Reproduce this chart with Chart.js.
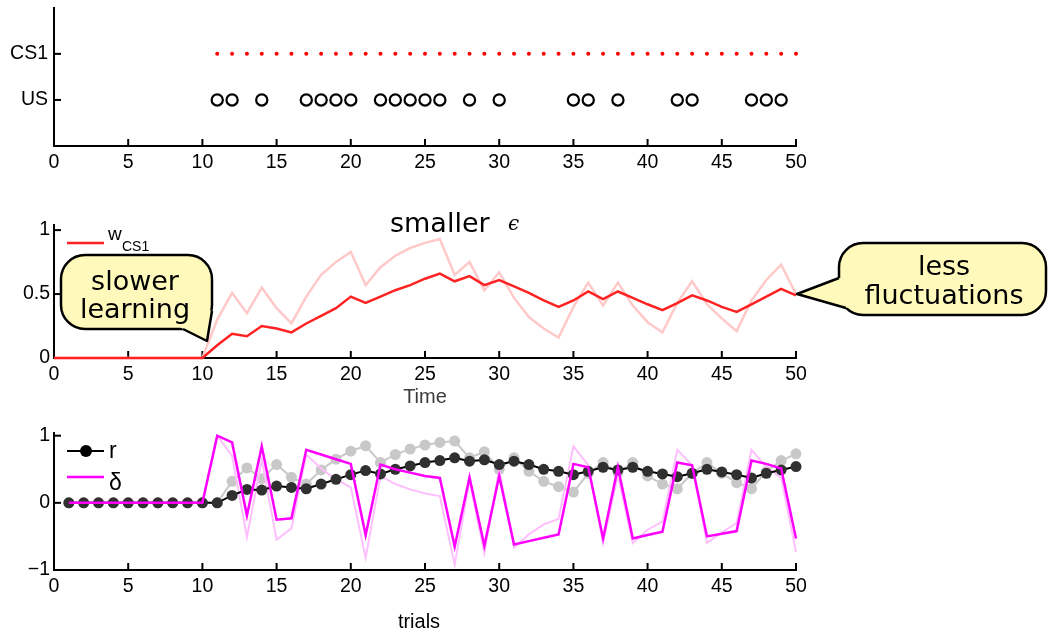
<!DOCTYPE html>
<html>
<head>
<meta charset="utf-8">
<script src="https://cdn.jsdelivr.net/npm/chart.js@4.4.1/dist/chart.umd.min.js"></script>
<style>
  body { margin: 0; background: #fff; }
  #wrap { position: relative; width: 1048px; height: 634px; overflow: hidden; }
  .panel { position: absolute; left: 0; width: 1048px; }
</style>
</head>
<body>
<div id="wrap">
  <div class="panel" style="top:0;height:190px"><canvas id="stimChart"></canvas></div>
  <div class="panel" style="top:190px;height:225px"><canvas id="weightChart"></canvas></div>
  <div class="panel" style="top:415px;height:219px"><canvas id="errorChart"></canvas></div>
</div>
<script>
// --- panel 1: stimuli ---
const stimRows = [1, 2];
const stimLabels = ['US', 'CS1'];
const csTrials = [11, 12, 13, 14, 15, 16, 17, 18, 19, 20, 21, 22, 23, 24, 25, 26, 27, 28, 29, 30,
  31, 32, 33, 34, 35, 36, 37, 38, 39, 40, 41, 42, 43, 44, 45, 46, 47, 48, 49, 50];
const usTrials = [11, 12, 14, 17, 18, 19, 20, 22, 23, 24, 25, 26, 28, 30, 35, 36, 38, 42, 43, 47, 48, 49];

// --- panel 2: weights (smaller / larger epsilon) ---
const timeSteps = [0, 1, 2, 3, 4, 5, 6, 7, 8, 9, 10, 11, 12, 13, 14, 15, 16, 17, 18, 19, 20,
  21, 22, 23, 24, 25, 26, 27, 28, 29, 30, 31, 32, 33, 34, 35, 36, 37, 38, 39, 40,
  41, 42, 43, 44, 45, 46, 47, 48, 49, 50];
const wSmall = [0, 0, 0, 0, 0, 0, 0, 0, 0, 0, 0,
  0.10, 0.19, 0.17, 0.25, 0.23, 0.20, 0.27, 0.33, 0.39, 0.48,
  0.43, 0.48, 0.53, 0.57, 0.62, 0.66, 0.60, 0.64, 0.57, 0.61,
  0.56, 0.51, 0.45, 0.40, 0.45, 0.52, 0.46, 0.52, 0.47, 0.42,
  0.375, 0.43, 0.49, 0.45, 0.40, 0.36, 0.42, 0.48, 0.54, 0.49];
const wLarge = [0, 0, 0, 0, 0, 0, 0, 0, 0, 0, 0,
  0.30, 0.51, 0.35, 0.55, 0.39, 0.27, 0.48, 0.65, 0.75, 0.83,
  0.57, 0.71, 0.80, 0.86, 0.90, 0.93, 0.65, 0.75, 0.53, 0.67,
  0.47, 0.32, 0.23, 0.16, 0.40, 0.59, 0.41, 0.59, 0.41, 0.28,
  0.20, 0.43, 0.60, 0.42, 0.31, 0.21, 0.45, 0.61, 0.73, 0.50];

// --- panel 3: prediction r and error delta per trial ---
const trials = [1, 2, 3, 4, 5, 6, 7, 8, 9, 10, 11, 12, 13, 14, 15, 16, 17, 18, 19, 20,
  21, 22, 23, 24, 25, 26, 27, 28, 29, 30, 31, 32, 33, 34, 35, 36, 37, 38, 39, 40,
  41, 42, 43, 44, 45, 46, 47, 48, 49, 50];
const rSmall = [0, 0, 0, 0, 0, 0, 0, 0, 0, 0, 0,
  0.11, 0.20, 0.19, 0.25, 0.23, 0.21, 0.28, 0.35, 0.42,
  0.48, 0.43, 0.50, 0.55, 0.60, 0.63, 0.67, 0.62, 0.64, 0.57,
  0.62, 0.57, 0.50, 0.47, 0.42, 0.47, 0.53, 0.49, 0.53, 0.47,
  0.43, 0.39, 0.44, 0.50, 0.46, 0.42, 0.37, 0.44, 0.49, 0.54];
const rLarge = [0, 0, 0, 0, 0, 0, 0, 0, 0, 0, 0,
  0.32, 0.52, 0.36, 0.57, 0.38, 0.28, 0.49, 0.65, 0.77,
  0.85, 0.60, 0.72, 0.80, 0.86, 0.90, 0.92, 0.67, 0.76, 0.50,
  0.67, 0.47, 0.32, 0.24, 0.16, 0.44, 0.60, 0.45, 0.60, 0.40,
  0.28, 0.21, 0.44, 0.60, 0.44, 0.30, 0.21, 0.47, 0.63, 0.73];
const deltaSmall = [0, 0, 0, 0, 0, 0, 0, 0, 0, 0,
  1.00, 0.90, -0.19, 0.84, -0.25, -0.23, 0.79, 0.72, 0.65, 0.58,
  -0.48, 0.57, 0.50, 0.45, 0.40, 0.37, -0.65, 0.38, -0.64, 0.40,
  -0.62, -0.57, -0.52, -0.47, 0.58, 0.53, -0.53, 0.53, -0.53, -0.48,
  -0.43, 0.60, 0.56, -0.50, -0.46, -0.42, 0.63, 0.58, 0.51, -0.53];
const deltaLarge = [0, 0, 0, 0, 0, 0, 0, 0, 0, 0,
  1.00, 0.70, -0.51, 0.64, -0.55, -0.38, 0.72, 0.51, 0.35, 0.23,
  -0.82, 0.40, 0.28, 0.20, 0.14, 0.10, -0.92, 0.33, -0.75, 0.50,
  -0.67, -0.47, -0.32, -0.24, 0.84, 0.56, -0.60, 0.41, -0.60, -0.40,
  -0.28, 0.79, 0.56, -0.60, -0.44, -0.30, 0.79, 0.53, 0.37, -0.73];

const weightTicks = [0, 0.5, 1];
const errorTicks = [-1, 0, 1];

const tickFont = { family: 'Liberation Sans', size: 19.5 };
const PLOT_LEFT = 54;
const PLOT_RIGHT = 796;

function pts(xs, ys) {
  return xs.map((x, i) => ({ x: x, y: ys[i] }));
}

function xAxis(height) {
  return {
    type: 'linear', min: 0, max: 50,
    grid: { display: false, drawTicks: false, lineWidth: 2 },
    border: { display: true, color: '#000', width: 2 },
    ticks: { stepSize: 5, autoSkip: false, maxRotation: 0, padding: 5, color: '#000', font: tickFont },
    afterFit: s => { s.height = height; }
  };
}

function yAxis(min, max, values, labelFn, pad) {
  return {
    type: 'linear', min: min, max: max,
    grid: { display: false, drawTicks: false, lineWidth: 2 },
    border: { display: true, color: '#000', width: 2 },
    afterBuildTicks: s => { s.ticks = values.map(v => ({ value: v })); },
    ticks: { padding: pad, color: '#000', font: tickFont, callback: labelFn },
    afterFit: s => {
      s.width = PLOT_LEFT;
      // labels are not at the ends of the axis, so no extra room above/below
      s.paddingTop = 0;
      s.paddingBottom = 0;
    }
  };
}

// matlab style ticks pointing into the plot
const innerTicks = {
  id: 'innerTicks',
  beforeDatasetsDraw(chart) {
    const ctx = chart.ctx;
    ctx.save();
    ctx.strokeStyle = '#000';
    ctx.lineWidth = 2;
    Object.values(chart.scales).forEach(s => {
      s.ticks.forEach(t => {
        const p = s.getPixelForValue(t.value);
        ctx.beginPath();
        if (s.isHorizontal()) {
          ctx.moveTo(p, s.top); ctx.lineTo(p, s.top - 7);
        } else {
          ctx.moveTo(s.right, p); ctx.lineTo(s.right + 7, p);
        }
        ctx.stroke();
      });
    });
    ctx.restore();
  }
};

// draw in page coordinates on top of a chart
function overlay(top, draw) {
  return {
    id: 'overlay' + top,
    afterDraw(chart) {
      const ctx = chart.ctx;
      ctx.save();
      ctx.translate(0, -top);
      draw(ctx);
      ctx.restore();
    }
  };
}

function roundRectPath(ctx, x, y, w, h, r) {
  ctx.beginPath();
  ctx.moveTo(x + r, y);
  ctx.arcTo(x + w, y, x + w, y + h, r);
  ctx.arcTo(x + w, y + h, x, y + h, r);
  ctx.arcTo(x, y + h, x, y, r);
  ctx.arcTo(x, y, x + w, y, r);
  ctx.closePath();
}

function bubble(ctx, x, y, w, h, r, tail, lines) {
  ctx.save();
  ctx.fillStyle = '#fffabb';
  ctx.strokeStyle = '#000';
  ctx.lineWidth = 2.5;
  ctx.lineJoin = 'round';
  roundRectPath(ctx, x, y, w, h, r);
  ctx.fill();
  ctx.stroke();
  const cx = x + w / 2, cy = y + h / 2;
  const inward = p => {
    const dx = cx - p[0], dy = cy - p[1];
    const d = Math.hypot(dx, dy);
    return [p[0] + dx / d * 5, p[1] + dy / d * 5];
  };
  const a = tail[0], tip = tail[1], b = tail[2];
  const a2 = inward(a), b2 = inward(b);
  ctx.beginPath();
  ctx.moveTo(a2[0], a2[1]);
  ctx.lineTo(a[0], a[1]);
  ctx.lineTo(tip[0], tip[1]);
  ctx.lineTo(b[0], b[1]);
  ctx.lineTo(b2[0], b2[1]);
  ctx.closePath();
  ctx.fill();
  ctx.beginPath();
  ctx.moveTo(a[0], a[1]);
  ctx.lineTo(tip[0], tip[1]);
  ctx.lineTo(b[0], b[1]);
  ctx.stroke();

  ctx.fillStyle = '#000';
  ctx.font = '27px "DejaVu Sans"';
  ctx.textAlign = 'center';
  ctx.textBaseline = 'alphabetic';
  lines.forEach(l => ctx.fillText(l.text, l.x, l.y));
  ctx.restore();
}

const baseOptions = {
  responsive: true,
  maintainAspectRatio: false,
  animation: false,
  events: [],
  plugins: { legend: { display: false }, tooltip: { enabled: false } }
};

// ---------- panel 1 ----------
new Chart(document.getElementById('stimChart'), {
  type: 'scatter',
  data: {
    datasets: [
      {
        data: pts(csTrials, csTrials.map(() => stimRows[1])),
        pointRadius: 2, pointBackgroundColor: '#ff0000', pointBorderWidth: 0, clip: false
      },
      {
        data: pts(usTrials, usTrials.map(() => stimRows[0])),
        pointRadius: 5.6, pointBackgroundColor: 'rgba(0,0,0,0)', pointBorderColor: '#000',
        pointBorderWidth: 2.2, clip: false
      }
    ]
  },
  options: Object.assign({}, baseOptions, {
    layout: { padding: { top: 5, right: 1048 - PLOT_RIGHT, left: 0, bottom: 0 } },
    scales: {
      x: xAxis(190 - 146),
      y: yAxis(0, 3, stimRows, v => stimLabels[stimRows.indexOf(v)], 6)
    }
  }),
  plugins: [innerTicks]
});

// ---------- panel 2 ----------
const weightTop = 190;
new Chart(document.getElementById('weightChart'), {
  type: 'scatter',
  data: {
    datasets: [
      {
        data: pts(timeSteps, wSmall), showLine: true, borderColor: '#ff2222', borderWidth: 2.5,
        pointRadius: 0, clip: false
      },
      {
        data: pts(timeSteps, wLarge), showLine: true, borderColor: '#ffc9c9', borderWidth: 2.5,
        pointRadius: 0, clip: false
      }
    ]
  },
  options: Object.assign({}, baseOptions, {
    layout: { padding: { top: 225 - weightTop, right: 1048 - PLOT_RIGHT, left: 0, bottom: 0 } },
    scales: {
      x: xAxis(weightTop + 225 - 358),
      y: yAxis(0, 1.04, weightTicks, v => String(v), 4)
    }
  }),
  plugins: [innerTicks, overlay(weightTop, ctx => {
    // legend
    ctx.strokeStyle = '#ff2222';
    ctx.lineWidth = 2.5;
    ctx.beginPath(); ctx.moveTo(67, 243); ctx.lineTo(104, 243); ctx.stroke();
    ctx.fillStyle = '#000';
    ctx.textAlign = 'left';
    ctx.textBaseline = 'alphabetic';
    ctx.font = '19px "Liberation Sans"';
    ctx.fillText('w', 108, 240);
    ctx.font = '14px "Liberation Sans"';
    ctx.fillText('CS1', 122, 251);

    // title
    ctx.font = '27px "DejaVu Sans"';
    ctx.fillText('smaller', 390, 232);
    ctx.font = 'italic 20px "DejaVu Serif"';
    ctx.fillText('\u03f5', 508, 230);

    // x label
    ctx.font = '20px "Liberation Sans"';
    ctx.fillStyle = '#3a3a3a';
    ctx.textAlign = 'center';
    ctx.fillText('Time', 425, 403);

    bubble(ctx, 61, 255, 151, 74, 24, [[183, 329], [207, 341], [212, 311]],
      [{ text: 'slower', x: 135, y: 290 }, { text: 'learning', x: 135, y: 318 }]);
    bubble(ctx, 839, 243, 207, 72, 24, [[839, 278], [797, 294], [846, 308]],
      [{ text: 'less', x: 944, y: 275 }, { text: 'fluctuations', x: 944, y: 304 }]);
  })]
});

// ---------- panel 3 ----------
const errorTop = 415;
new Chart(document.getElementById('errorChart'), {
  type: 'scatter',
  data: {
    datasets: [
      {
        data: pts(trials, deltaSmall), showLine: true, borderColor: '#ff00ff', borderWidth: 2.5,
        pointRadius: 0, clip: false
      },
      {
        data: pts(trials, rSmall), showLine: true, borderColor: '#000', borderWidth: 2,
        pointRadius: 5.5, pointBackgroundColor: '#303030', pointBorderWidth: 0, clip: false
      },
      {
        data: pts(trials, deltaLarge), showLine: true, borderColor: '#ffbfff', borderWidth: 2,
        pointRadius: 0, clip: false
      },
      {
        data: pts(trials, rLarge), showLine: true, borderColor: '#c8c8c8', borderWidth: 2,
        pointRadius: 5.5, pointBackgroundColor: '#c8c8c8', pointBorderWidth: 0, clip: false
      }
    ]
  },
  options: Object.assign({}, baseOptions, {
    layout: { padding: { top: 433 - errorTop, right: 1048 - PLOT_RIGHT, left: 0, bottom: 0 } },
    scales: {
      x: xAxis(634 - 570),
      y: yAxis(-1, 1.04, errorTicks, v => (v < 0 ? '\u2212' + Math.abs(v) : String(v)), 4)
    }
  }),
  plugins: [innerTicks, overlay(errorTop, ctx => {
    ctx.lineWidth = 2;
    ctx.strokeStyle = '#000';
    ctx.beginPath(); ctx.moveTo(67, 451); ctx.lineTo(104, 451); ctx.stroke();
    ctx.fillStyle = '#000';
    ctx.beginPath(); ctx.arc(86, 451, 6, 0, Math.PI * 2); ctx.fill();
    ctx.strokeStyle = '#ff00ff';
    ctx.lineWidth = 2.5;
    ctx.beginPath(); ctx.moveTo(67, 477); ctx.lineTo(104, 477); ctx.stroke();

    ctx.textAlign = 'left';
    ctx.textBaseline = 'alphabetic';
    ctx.font = '23px "Liberation Sans"';
    ctx.fillText('r', 109, 458);
    ctx.fillText('\u03b4', 109, 490);

    ctx.font = '20px "Liberation Sans"';
    ctx.textAlign = 'center';
    ctx.fillText('trials', 419, 628);
  })]
});
</script>
</body>
</html>
